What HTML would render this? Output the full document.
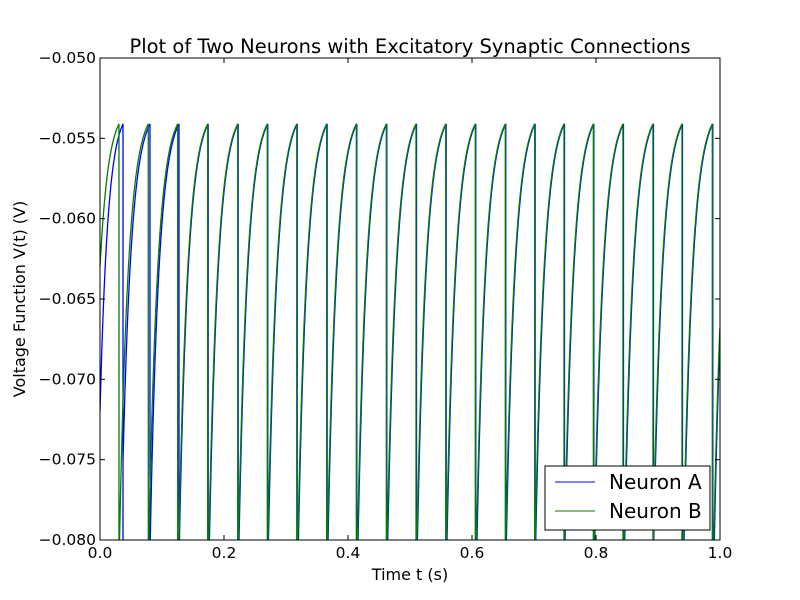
<!DOCTYPE html>
<html><head><meta charset="utf-8"><style>
html,body{margin:0;padding:0;background:#fff;overflow:hidden;width:800px;height:600px;}
svg{display:block;}
svg text{font-family:"DejaVu Sans","Liberation Sans",sans-serif;fill:#000;}
</style></head><body>
<svg id="chart" width="800" height="600" xmlns="http://www.w3.org/2000/svg">
<defs><clipPath id="clip"><rect x="100" y="58" width="620" height="482"/></clipPath></defs>
<rect x="0" y="0" width="800" height="600" fill="#fff"/>
<text x="410" y="53" font-size="19.5" text-anchor="middle">Plot of Two Neurons with Excitatory Synaptic Connections</text>
<g id="series" clip-path="url(#clip)"></g>
<g id="axes"></g>
<text x="410" y="580" font-size="16" text-anchor="middle">Time t (s)</text>
<text x="25" y="299" font-size="16" text-anchor="middle" transform="rotate(-90 25 299)">Voltage Function V(t) (V)</text>
<g>
<rect x="545" y="466" width="165" height="64" fill="#fff" stroke="#000" stroke-width="1"/>
<line x1="555" y1="482" x2="595" y2="482" stroke="#0000ff" stroke-width="1"/>
<text x="609" y="489" font-size="20">Neuron A</text>
<line x1="555" y1="511" x2="595" y2="511" stroke="#008000" stroke-width="1"/>
<text x="609" y="518" font-size="20">Neuron B</text>
</g>
</svg>
<script>
const xTicks = [0, 0.2, 0.4, 0.6, 0.8, 1.0];
const yTicks = [-0.080, -0.075, -0.070, -0.065, -0.060, -0.055, -0.050];
const spikesA = [0.0371, 0.0806, 0.1274, 0.1745, 0.2229, 0.2706, 0.3181, 0.3664, 0.4142, 0.4626, 0.5105, 0.5584, 0.6061, 0.6545, 0.7019, 0.7492, 0.7965, 0.8443, 0.8927, 0.9395, 0.9884];
const spikesB = [0.0306, 0.0779, 0.1253, 0.1737, 0.2221, 0.2698, 0.3173, 0.3656, 0.4134, 0.4618, 0.5097, 0.5576, 0.6053, 0.6537, 0.7011, 0.7484, 0.7957, 0.8435, 0.8919, 0.9387, 0.9876];
const startA = [-0.072];
const startB = [-0.063];
const threshold = [-0.0541];

const X0=100,X1=720,Y0=540,Y1=58;
function sx(t){return X0+(t-0)/(1-0)*(X1-X0);}
function sy(v){return Y0-(v-(-0.08))/(-0.05-(-0.08))*(Y0-Y1);}
const NS="http://www.w3.org/2000/svg";
const axes=document.getElementById('axes');
function mk(tag,attrs,parent){const e=document.createElementNS(NS,tag);for(const k in attrs)e.setAttribute(k,attrs[k]);parent.appendChild(e);return e;}

const frame=mk('rect',{x:X0,y:Y1,width:X1-X0,height:Y0-Y1,fill:'none',stroke:'#000','stroke-width':1},axes);


xTicks.forEach(t=>{
  const x=sx(t);
  mk('line',{x1:x,y1:Y0,x2:x,y2:Y0-5,stroke:'#000'},axes);
  mk('line',{x1:x,y1:Y1,x2:x,y2:Y1+5,stroke:'#000'},axes);
  const tx=mk('text',{x:x,y:Y0+18,'font-size':15.5,'text-anchor':'middle'},axes);
  tx.textContent=t.toFixed(1);
  
  
});
yTicks.forEach(v=>{
  const y=sy(v);
  mk('line',{x1:X0,y1:y,x2:X0+5,y2:y,stroke:'#000'},axes);
  mk('line',{x1:X1,y1:y,x2:X1-5,y2:y,stroke:'#000'},axes);
  const tx=mk('text',{x:X0-4,y:y+5,'font-size':15.5,'text-anchor':'end'},axes);
  tx.textContent='\u2212'+Math.abs(v).toFixed(3);
  
  
});

const E=-0.053, TAU=0.0145;
function trace(spikes,v0){
  const th=threshold[0];
  const pts=[];
  const t1=spikes[0];
  const tau0=t1/Math.log((E-v0)/(E-th));
  for(let i=0;i<=40;i++){const t=t1*i/40;pts.push([t,E-(E-v0)*Math.exp(-t/tau0)]);}
  for(let k=0;k<spikes.length;k++){
    const ts=spikes[k];
    pts.push([ts,-0.095]);
    const te=k+1<spikes.length?spikes[k+1]:ts+(spikes[k]-spikes[k-1]);
    const T=te-ts;
    const vr=E-(E-th)*Math.exp(T/TAU);
    for(let i=0;i<=40;i++){const s=T*i/40;const t=ts+s;if(t>1.0005)break;pts.push([t,E-(E-vr)*Math.exp(-s/TAU)]);}
  }
  return pts.map((p,i)=>(i?'L':'M')+sx(p[0]).toFixed(2)+','+sy(p[1]).toFixed(2)).join('');
}
const g=document.getElementById('series');
const pa=mk('path',{d:trace(spikesA,startA[0]),fill:'none',stroke:'#0000ff','stroke-width':1.3},g);


const pb=mk('path',{d:trace(spikesB,startB[0]),fill:'none',stroke:'#008000','stroke-width':1.3},g);


</script>
</body></html>
